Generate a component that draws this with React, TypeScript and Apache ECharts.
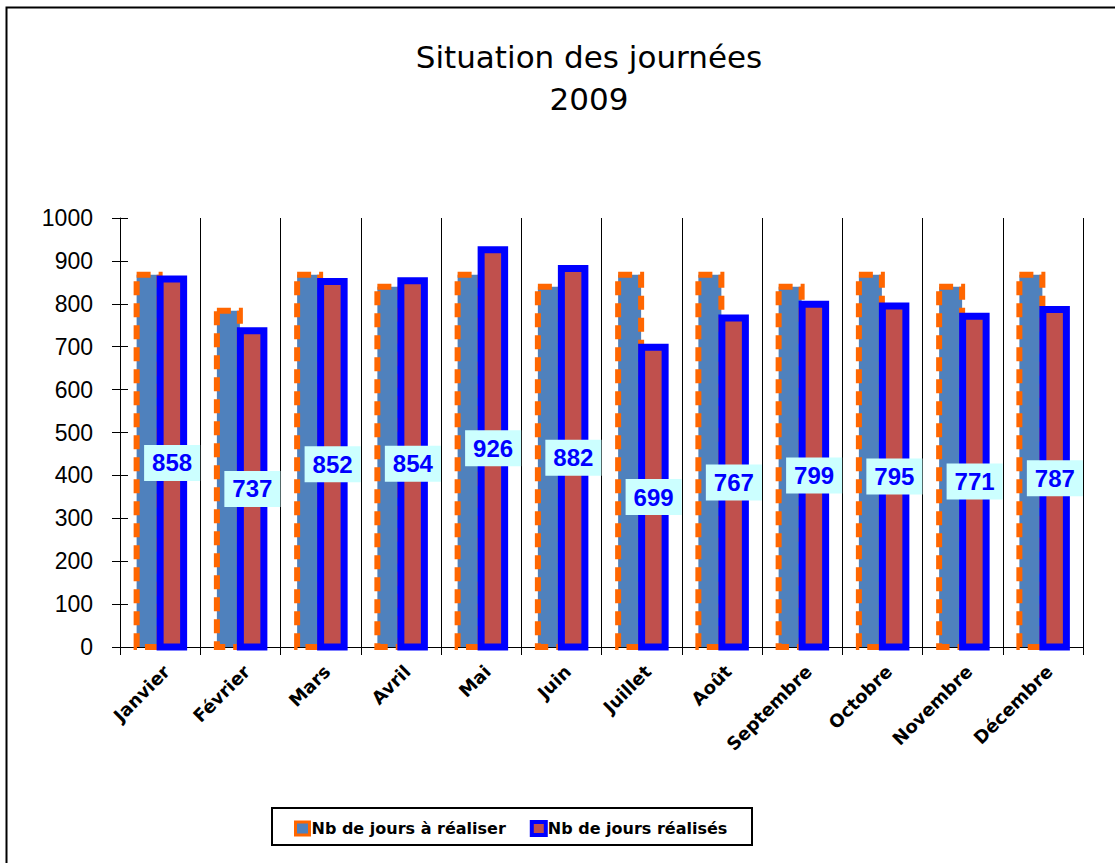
import React, { useEffect, useRef } from "react";
import * as echarts from "echarts";

const categories = ["Janvier", "Février", "Mars", "Avril", "Mai", "Juin", "Juillet", "Août", "Septembre", "Octobre", "Novembre", "Décembre"];
const planned = [868, 784, 868, 840, 868, 840, 868, 868, 840, 868, 840, 868];
const realized = [858, 737, 852, 854, 926, 882, 699, 767, 799, 795, 771, 787];
const seriesNames = ["Nb de jours à réaliser", "Nb de jours réalisés"];
const yTicks = { min: 0, max: 1000, interval: 100 };

const comic = "'Comic Sans MS', 'DejaVu Sans', sans-serif";
const arial = "'Liberation Sans', Arial, sans-serif";

export default function App() {
  const ref = useRef<HTMLDivElement>(null);
  useEffect(() => {
    document.body.style.margin = "0";
    const chart = echarts.init(ref.current!, null, { renderer: "svg" });

    const plannedRender = (params: any, api: any) => {
      const idx = api.value(0);
      const v = api.value(1);
      const base = api.coord([idx, 0]);
      const top = api.coord([idx, v]);
      return {
        type: "rect",
        shape: { x: base[0] - 23.5, y: top[1], width: 23, height: base[1] - top[1] },
        style: { fill: "#4F81BD", stroke: "#FF6600", lineWidth: 6, lineDash: [14, 8] },
      };
    };
    const realizedRender = (params: any, api: any) => {
      const idx = api.value(0);
      const v = api.value(1);
      const base = api.coord([idx, 0]);
      const top = api.coord([idx, v]);
      return {
        type: "group",
        children: [
          {
            type: "rect",
            shape: { x: base[0], y: top[1], width: 23.5, height: base[1] - top[1] },
            style: { fill: "#C0504D", stroke: "#0000FF", lineWidth: 7 },
          },
          {
            type: "text",
            z2: 100,
            style: {
              text: String(v),
              x: base[0] + 12,
              y: (base[1] + top[1]) / 2,
              align: "center",
              verticalAlign: "middle",
              fill: "#0000FF",
              font: "bold 24px 'Liberation Sans', Arial, sans-serif",
              backgroundColor: "#CCFFFF",
              padding: [6, 8, 6, 8],
            },
          },
        ],
      };
    };

    chart.setOption({
      animation: false,
      backgroundColor: "#fff",
      title: {
        text: "Situation des journées\n2009",
        left: 584,
        textAlign: "center",
        top: 31,
        textStyle: { fontFamily: comic, fontSize: 31, fontWeight: "normal", color: "#000", lineHeight: 42 },
      },
      graphic: [
        { type: "rect", shape: { x: 6.5, y: 7.5, width: 1300, height: 1000 }, style: { fill: "none", stroke: "#000", lineWidth: 2 }, silent: true },
        { type: "rect", shape: { x: 272, y: 808, width: 480, height: 37 }, style: { fill: "none", stroke: "#000", lineWidth: 2 }, silent: true },
      ],
      legend: {
        left: 294,
        top: 820,
        padding: 0,
        itemWidth: 14,
        itemHeight: 13,
        itemGap: 24,
        textStyle: { fontFamily: comic, fontSize: 16, fontWeight: "bold", color: "#000", padding: [0, 0, 0, -3] },
        data: [
          { name: seriesNames[0], icon: "rect", itemStyle: { color: "#4F81BD", borderColor: "#FF6600", borderWidth: 3 } },
          { name: seriesNames[1], icon: "rect", itemStyle: { color: "#C0504D", borderColor: "#0000FF", borderWidth: 4 } },
        ],
      },
      grid: { left: 120, right: 32, top: 218, bottom: 216 },
      xAxis: {
        type: "category",
        data: categories,
        axisLine: { lineStyle: { color: "#000", width: 1 } },
        axisTick: { show: true, length: 8, lineStyle: { color: "#000" } },
        splitLine: { show: true, lineStyle: { color: "#000", width: 1 } },
        axisLabel: { rotate: 45, margin: 15, verticalAlign: "top", fontFamily: comic, fontSize: 18, fontWeight: "bold", color: "#000", interval: 0 },
      },
      yAxis: [
        {
          type: "value",
          ...yTicks,
          axisLine: { show: true, lineStyle: { color: "#000" } },
          axisTick: { show: true, length: 8, lineStyle: { color: "#000" } },
          splitLine: { show: false },
          axisLabel: { margin: 27, fontFamily: arial, fontSize: 23, color: "#000", formatter: (v: number) => String(v) },
        },
        {
          type: "value",
          position: "left",
          ...yTicks,
          axisLine: { show: false },
          axisTick: { show: true, inside: true, length: 8, lineStyle: { color: "#000" } },
          splitLine: { show: false },
          axisLabel: { show: false },
        },
      ],
      series: [
        {
          name: seriesNames[0],
          type: "custom",
          renderItem: plannedRender,
          encode: { x: 0, y: 1 },
          data: planned.map((v, i) => [i, v]),
          itemStyle: { color: "#4F81BD" },
          clip: false,
        },
        {
          name: seriesNames[1],
          type: "custom",
          renderItem: realizedRender,
          encode: { x: 0, y: 1 },
          data: realized.map((v, i) => [i, v]),
          itemStyle: { color: "#C0504D" },
          clip: false,
        },
      ],
    });
    return () => chart.dispose();
  }, []);
  return <div ref={ref} style={{ width: 1115, height: 863 }} />;
}
